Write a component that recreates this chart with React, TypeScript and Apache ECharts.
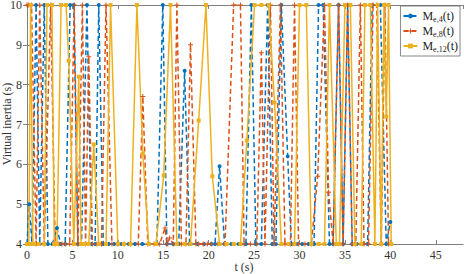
import React, { useEffect, useRef } from "react";
import * as echarts from "echarts";

const xTicks = [0, 5, 10, 15, 20, 25, 30, 35, 40, 45];
const yTicks = [4, 5, 6, 7, 8, 9, 10];
const seriesNames = ["M_{e,4}(t)", "M_{e,8}(t)", "M_{e,12}(t)"];
const xTitle = "t (s)";
const yTitle = "Virtual inertia (s)";

const blueT = [0, 0.25, 0.55, 1.0, 1.4, 1.9, 2.3, 2.8, 3.3, 3.7, 4.2, 4.75, 5.15, 5.6, 6.0, 6.6, 7.1, 7.5, 7.9, 8.4, 9.0, 9.6, 10.4, 11.2, 11.9, 12.7, 13.4, 14.3, 14.95, 15.4, 16.1, 16.7, 17.35, 17.9, 18.8, 19.5, 20.3, 20.7, 21.2, 21.75, 22.5, 23.3, 24.1, 24.7, 25.2, 25.8, 26.5, 27.0, 27.4, 28.0, 28.7, 29.1, 29.7, 30.3, 31.0, 31.6, 32.1, 32.6, 33.3, 33.7, 34.3, 34.8, 35.3, 35.8, 36.3, 36.9, 37.5, 38.0, 38.9, 39.55, 40.0];
const blueV = [4, 5.0, 4, 10, 4, 10, 4, 4, 4.4, 4, 4, 10, 10, 4, 4, 10, 4, 4, 10, 4, 4, 4, 4, 4, 4, 4, 4, 4, 10, 4, 4, 4, 8.35, 4, 4, 4, 4, 4, 5.95, 4, 4, 4, 4, 10, 4, 4, 10, 4, 4, 10, 6.2, 4, 4, 4, 4, 4, 10, 10, 4, 4, 10, 4, 10, 4, 4, 4, 4, 10, 10, 4, 4.55];

const orangeT = [0, 0.15, 0.5, 1.0, 1.4, 1.9, 2.6, 3.1, 3.5, 3.85, 4.25, 4.7, 5.2, 5.6, 6.1, 6.45, 6.8, 7.2, 7.7, 8.2, 8.7, 9.35, 10.0, 10.7, 11.4, 12.25, 12.75, 13.3, 14.0, 14.6, 15.2, 15.4, 15.7, 16.1, 16.5, 17.0, 17.5, 18.0, 18.6, 18.9, 19.4, 19.85, 20.3, 21.0, 21.8, 22.75, 23.5, 23.9, 24.6, 25.3, 25.8, 26.2, 26.8, 27.2, 27.9, 28.4, 29.0, 29.45, 29.9, 30.6, 31.3, 32.0, 32.75, 33.2, 33.7, 34.3, 34.8, 35.3, 35.8, 36.2, 36.7, 37.1, 37.6, 38.1, 38.5, 39.0, 39.4, 39.8];
const orangeV = [10, 10, 10, 4, 10, 4, 10, 4, 4, 4, 4, 4, 10, 4, 10, 4, 8.7, 4, 4, 4, 10, 4, 4, 4, 4, 4, 7.7, 4, 4, 4, 4.4, 4.0, 4.15, 4, 10, 4, 4, 9.0, 4, 4, 4, 4, 4, 4, 4, 10, 10, 4, 4, 4, 8.8, 4, 10, 4, 10, 4, 4, 10, 4, 4, 4, 5.7, 10, 5.3, 4, 10, 4, 10, 4, 4, 10, 4, 4, 10, 10, 4, 10, 4];

const yellowT = [0, 0.2, 0.4, 0.65, 0.77, 1.3, 1.9, 2.2, 2.75, 3.0, 3.3, 3.75, 4.3, 4.6, 5.15, 5.7, 5.95, 6.3, 6.8, 7.35, 7.9, 8.7, 9.2, 10.0, 10.65, 11.4, 12.1, 12.75, 13.4, 14.2, 15.05, 15.8, 16.5, 17.35, 18.0, 18.9, 19.7, 20.4, 21.2, 21.95, 22.75, 23.5, 24.2, 25.05, 25.8, 26.6, 27.25, 28.0, 28.8, 29.45, 30.0, 30.75, 31.3, 32.1, 32.75, 33.3, 34.05, 34.4, 35.0, 35.6, 36.1, 36.8, 37.2, 37.8, 38.3, 38.6, 39.0, 39.3, 39.55, 39.8, 40.1];
const yellowV = [4, 4, 10, 4, 4, 4, 4, 10, 10, 4, 4, 10, 10, 8.6, 4, 8.2, 4, 4, 4, 6.5, 4, 4, 10, 4, 4, 4, 10, 6.27, 4, 4, 5.72, 10, 4, 4, 4, 7.1, 10, 5.7, 4, 4, 4, 4, 6.6, 10, 10, 10, 7.55, 4, 4, 4, 10, 10, 4, 4, 4, 10, 4, 4, 10, 10, 4, 4, 10, 10, 4, 10, 4, 10, 7.2, 10, 4];

const zip = (t: number[], v: number[]) => t.map((x, i) => [x, v[i]]);

const FONT = "Liberation Serif";
const AX = "#7f7f7f";
const PLUS = "path://M4,0 L6,0 L6,4 L10,4 L10,6 L6,6 L6,10 L4,10 L4,6 L0,6 L0,4 L4,4 Z";

export default function App() {
  const ref = useRef<HTMLDivElement>(null);
  useEffect(() => {
    if (!ref.current) return;
    const chart = echarts.init(ref.current, undefined, { renderer: "svg" });
    const axisCommon = {
      axisLine: { show: true, lineStyle: { color: AX, width: 1 } },
      splitLine: { show: false },
    };
    chart.setOption({
      animation: false,
      backgroundColor: "#fff",
      textStyle: { fontFamily: FONT },
      grid: { left: 27, right: 1, top: 5, bottom: 30, containLabel: false, outerBoundsMode: "none" },
      graphic: [
        {
          type: "text",
          x: 244,
          y: 267,
          style: { text: xTitle, font: `12px ${FONT}`, fill: "#333", align: "center", verticalAlign: "middle" },
        },
        {
          type: "text",
          x: 7,
          y: 124,
          rotation: Math.PI / 2,
          style: { text: yTitle, font: `12px ${FONT}`, fill: "#333", align: "center", verticalAlign: "middle" },
        },
      ],
      legend: {
        orient: "vertical",
        right: 4,
        top: 6,
        itemWidth: 14,
        itemHeight: 6,
        itemGap: 1,
        padding: [3, 2, 3, 2],
        backgroundColor: "#fff",
        borderColor: "#6a6a6a",
        borderWidth: 0.8,
        data: seriesNames,
        formatter: (name: string) => {
          const m = name.match(/^M_\{(.*)\}\(t\)$/);
          if (!m) return name;
          return `{m|M}{s|${m[1]}}{m|(t)}`;
        },
        textStyle: {
          fontFamily: FONT,
          fontSize: 12,
          color: "#222",
          rich: {
            m: { fontFamily: FONT, fontSize: 12, color: "#222", lineHeight: 16, verticalAlign: "middle" },
            s: { fontFamily: FONT, fontSize: 8, color: "#222", lineHeight: 16, padding: [6, 0, 0, 0], verticalAlign: "middle" },
          },
        },
      },
      xAxis: [
        {
          type: "value",
          min: 0,
          max: 48,
          interval: 5,
          ...axisCommon,
          axisTick: { show: true, inside: true, length: 4, lineStyle: { color: AX } },
          axisLabel: {
            fontFamily: FONT,
            fontSize: 12,
            color: "#333",
            margin: 5,
            showMaxLabel: false,
            formatter: (v: number) => (xTicks.includes(v) ? String(v) : ""),
          },
        },
        {
          type: "value",
          position: "top",
          min: 0,
          max: 48,
          interval: 5,
          ...axisCommon,
          axisTick: { show: true, inside: true, length: 4, lineStyle: { color: AX } },
          axisLabel: { show: false },
        },
      ],
      yAxis: [
        {
          type: "value",
          min: 4,
          max: 10,
          interval: 1,
          ...axisCommon,
          axisTick: { show: true, inside: true, length: 4, lineStyle: { color: AX } },
          axisLabel: {
            fontFamily: FONT,
            fontSize: 12,
            color: "#333",
            margin: 5,
            formatter: (v: number) => (yTicks.includes(v) ? String(v) : ""),
          },
        },
        {
          type: "value",
          position: "right",
          min: 4,
          max: 10,
          interval: 1,
          ...axisCommon,
          axisTick: { show: true, inside: true, length: 4, lineStyle: { color: AX } },
          axisLabel: { show: false },
        },
      ],
      series: [
        {
          name: seriesNames[0],
          type: "line",
          data: zip(blueT, blueV),
          symbol: "circle",
          symbolSize: 4,
          showAllSymbol: true,
          color: "#0072BD",
          lineStyle: { width: 1.5, type: [5, 3], color: "#0072BD" },
          itemStyle: { color: "#0072BD" },
        },
        {
          name: seriesNames[1],
          type: "line",
          data: zip(orangeT, orangeV),
          symbol: PLUS,
          symbolSize: 5,
          showAllSymbol: true,
          color: "#D95319",
          lineStyle: { width: 1.5, type: [5, 3], color: "#D95319" },
          itemStyle: { color: "#D95319" },
        },
        {
          name: seriesNames[2],
          type: "line",
          data: zip(yellowT, yellowV),
          symbol: "rect",
          symbolSize: 4,
          showAllSymbol: true,
          color: "#EDB120",
          lineStyle: { width: 1.5, color: "#EDB120" },
          itemStyle: { color: "#EDB120" },
        },
      ],
    });
    return () => chart.dispose();
  }, []);
  return <div ref={ref} style={{ width: 464, height: 274, position: "absolute", left: 0, top: 0 }} />;
}
